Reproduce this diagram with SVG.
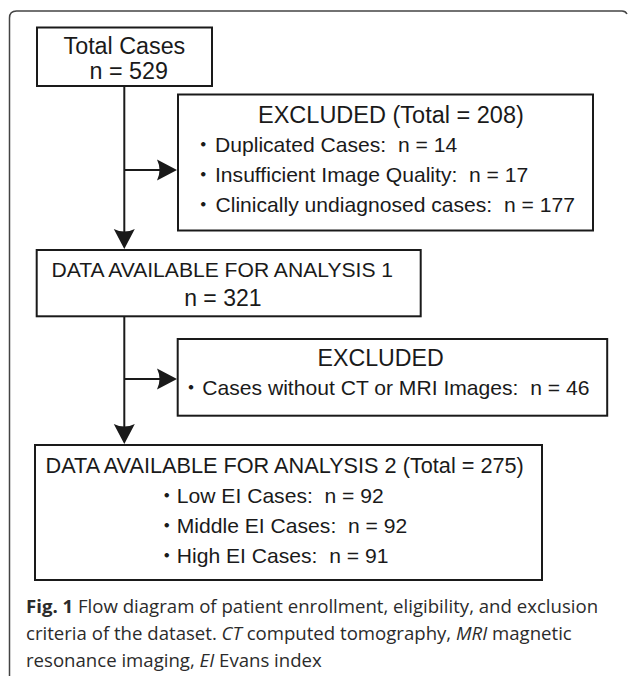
<svg xmlns="http://www.w3.org/2000/svg" width="629" height="676" viewBox="0 0 629 676" xml:space="preserve">
<style>
.box{fill:#fff;stroke:#1a1a1a;stroke-width:2}
.t{font-family:"Liberation Sans",Arial,sans-serif;fill:#1a1a1a;white-space:pre}
.big{font-size:23.3px}
.sm{font-size:21.1px}
.dot{font-family:"Liberation Sans","Noto Sans CJK JP",sans-serif;font-size:21px;fill:#1a1a1a;text-anchor:middle}
.ln{fill:none;stroke:#1a1a1a;stroke-width:2}
.cap{font-family:"Open Sans","Noto Sans",sans-serif;font-size:18.6px;fill:#2b2b2b;white-space:pre}
</style>
<defs>
<marker id="ah" viewBox="-10 -11 24 22" refX="0" refY="0" markerWidth="24" markerHeight="22" markerUnits="userSpaceOnUse" orient="auto">
<path d="M12,0 L-8,-10.5 Q-3,0 -8,10.5 Z" fill="#1a1a1a"/>
</marker>
</defs>
<rect width="629" height="676" fill="#fff"/>
<path d="M9.5,676 V18 Q9.5,11 16.5,11 H622 Q625.5,11 627,14" fill="none" stroke="#444" stroke-width="1.5"/>

<g id="connectors">
<path class="ln" d="M124.3,86 V237" marker-end="url(#ah)"/>
<path class="ln" d="M124.3,170 H165" marker-end="url(#ah)"/>
<path class="ln" d="M124.3,316 V432" marker-end="url(#ah)"/>
<path class="ln" d="M124.3,379 H165" marker-end="url(#ah)"/>
</g>

<g id="total">
<rect class="box" x="37" y="27.5" width="175" height="58.5"/>
<text class="t big" x="124.4" y="54" text-anchor="middle">Total Cases</text>
<text class="t big" x="89.5" y="79">n = 529</text>
</g>

<g id="excluded1">
<rect class="box" x="178" y="94.5" width="415" height="136"/>
<text class="t" x="258" y="122.7" font-size="23.5">EXCLUDED (Total = 208)</text>
<text class="dot" x="203.3" y="151.7">・</text>
<text class="t sm" x="215" y="151.7">Duplicated Cases:  n = 14</text>
<text class="dot" x="203.3" y="181.7">・</text>
<text class="t sm" x="215" y="181.7">Insufficient Image Quality:  n = 17</text>
<text class="dot" x="203.3" y="211.7">・</text>
<text class="t sm" x="215.5" y="211.7">Clinically undiagnosed cases:  n = 177</text>
</g>

<g id="data1">
<rect class="box" x="36.7" y="250" width="384" height="66.3"/>
<text class="t sm" x="51.5" y="276.7">DATA AVAILABLE FOR ANALYSIS 1</text>
<text class="t" x="184.2" y="305.7" font-size="23">n = 321</text>
</g>

<g id="excluded2">
<rect class="box" x="177.7" y="339" width="429.5" height="76.7"/>
<text class="t" x="317.5" y="365.7" font-size="23.2">EXCLUDED</text>
<text class="dot" x="191" y="395">・</text>
<text class="t sm" x="202.3" y="395">Cases without CT or MRI Images:  n = 46</text>
</g>

<g id="data2">
<rect class="box" x="35" y="445" width="507" height="135"/>
<text class="t" x="45.5" y="473.3" font-size="21.7">DATA AVAILABLE FOR ANALYSIS 2 (Total = 275)</text>
<text class="dot" x="166.7" y="503.3">・</text>
<text class="t sm" x="176.8" y="503.3">Low EI Cases:  n = 92</text>
<text class="dot" x="166.7" y="533.3">・</text>
<text class="t sm" x="176.8" y="533.3">Middle EI Cases:  n = 92</text>
<text class="dot" x="166.7" y="563">・</text>
<text class="t sm" x="176.8" y="563">High EI Cases:  n = 91</text>
</g>

<g id="caption">
<text class="cap" x="26" y="613.3"><tspan font-weight="bold">Fig. 1</tspan> Flow diagram of patient enrollment, eligibility, and exclusion</text>
<text class="cap" x="26" y="640">criteria of the dataset. <tspan font-style="italic">CT</tspan> computed tomography, <tspan font-style="italic">MRI</tspan> magnetic</text>
<text class="cap" x="26" y="666.7">resonance imaging, <tspan font-style="italic">EI</tspan> Evans index</text>
</g>
</svg>
